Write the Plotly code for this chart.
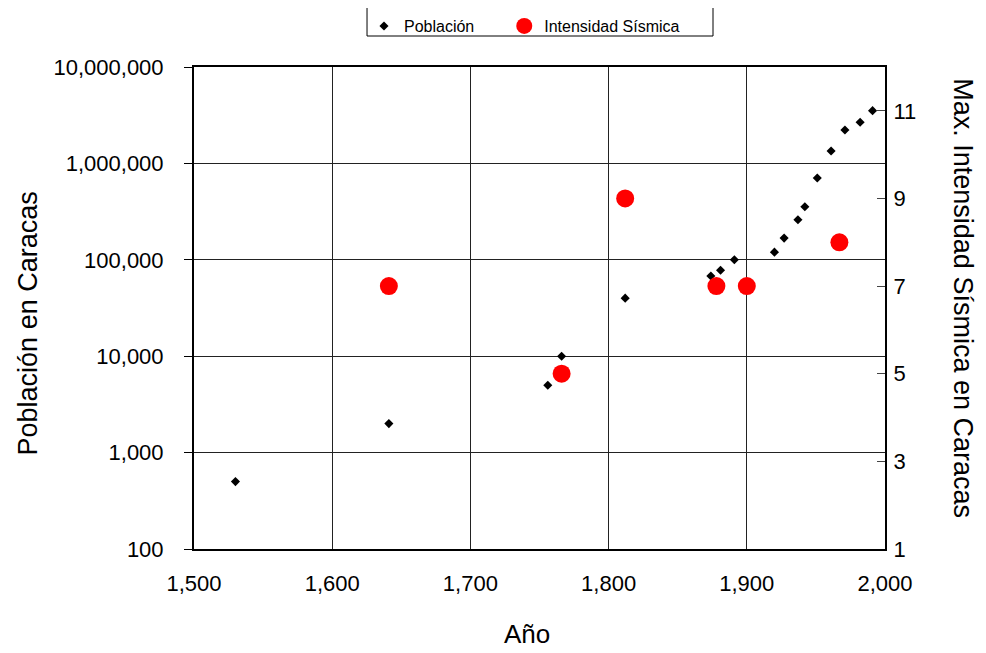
import plotly.graph_objects as go

# Population of Caracas (year, inhabitants)
pop_years = [1530, 1641, 1756, 1766, 1812, 1874, 1881, 1891, 1920, 1927, 1937, 1942, 1951, 1961, 1971, 1982, 1991]
pop_values = [500, 2000, 5000, 10000, 40000, 68000, 78000, 100000, 120000, 168000, 260000, 355000, 705000, 1346000, 2220000, 2670000, 3525000]

# Earthquakes: max seismic intensity in Caracas
eq_years = [1641, 1766, 1812, 1878, 1900, 1967]
eq_intensity = [7, 5, 9, 7, 7, 8]

x_ticks = [1500, 1600, 1700, 1800, 1900, 2000]
y_ticks = [100, 1000, 10000, 100000, 1000000, 10000000]
y2_ticks = [1, 3, 5, 7, 9, 11]

FONT = "Liberation Sans, Arial, sans-serif"

fig = go.Figure()
fig.add_trace(go.Scatter(
    x=pop_years, y=pop_values, mode="markers", name="Población",
    marker=dict(symbol="diamond", size=7, color="black"), legend="legend",
))
fig.add_trace(go.Scatter(
    x=eq_years, y=eq_intensity, mode="markers", name="Intensidad Sísmica",
    marker=dict(symbol="circle", size=18, color="#ff0000"), yaxis="y2",
    legend="legend2",
))

legend_common = dict(
    orientation="h", yanchor="middle", y=1.085, xanchor="left",
    borderwidth=0, bgcolor="rgba(0,0,0,0)", font=dict(size=16, family=FONT),
)

fig.update_layout(
    width=978, height=645,
    margin=dict(l=186, r=101, t=59, b=104, autoexpand=False),
    paper_bgcolor="white", plot_bgcolor="white",
    font=dict(family=FONT, size=22, color="black"),
    xaxis=dict(
        range=[1500, 2000], tickvals=x_ticks,
        ticktext=[f"{v:,}" for v in x_ticks],
        showgrid=True, gridcolor="#222", gridwidth=1,
        showline=True, linecolor="black", linewidth=2, mirror=True,
        ticks="", ticklabelstandoff=14, zeroline=False, automargin=False,
    ),
    yaxis=dict(
        type="log", range=[2, 7], tickvals=y_ticks,
        ticktext=[f"{v:,}" for v in y_ticks],
        showgrid=True, gridcolor="#222", gridwidth=1,
        showline=True, linecolor="black", linewidth=2,
        ticks="outside", ticklen=8, tickcolor="black",
        ticklabelstandoff=16, zeroline=False, automargin=False,
    ),
    yaxis2=dict(
        overlaying="y", side="right", range=[1, 12], tickvals=y2_ticks,
        showgrid=False, showline=True, linecolor="black", linewidth=2,
        ticks="inside", ticklen=8, tickcolor="#444", zeroline=False,
        ticklabelstandoff=2, automargin=False,
    ),
    legend=dict(legend_common, x=0.246),
    legend2=dict(legend_common, x=0.449),
    showlegend=True,
    shapes=[
        dict(type="rect", xref="paper", yref="paper",
             x0=0.2504, x1=0.7511, y0=1.0643, y1=1.1266,
             line=dict(color="black", width=1), fillcolor="rgba(0,0,0,0)",
             layer="below"),
    ],
    annotations=[
        dict(text="Año", xref="paper", yref="paper", x=0.482, y=-0.176,
             xanchor="center", yanchor="middle", showarrow=False,
             font=dict(size=26, family=FONT)),
        dict(text="Población en Caracas", xref="paper", yref="paper",
             x=-0.2402, y=0.468, xanchor="center", yanchor="middle",
             textangle=-90, showarrow=False, font=dict(size=27, family=FONT)),
        dict(text="Max. Intensidad Sísmica en Caracas", xref="paper", yref="paper",
             x=1.113, y=0.52, xanchor="center", yanchor="middle",
             textangle=90, showarrow=False, font=dict(size=27, family=FONT)),
    ],
)

fig.write_html("out.html")
